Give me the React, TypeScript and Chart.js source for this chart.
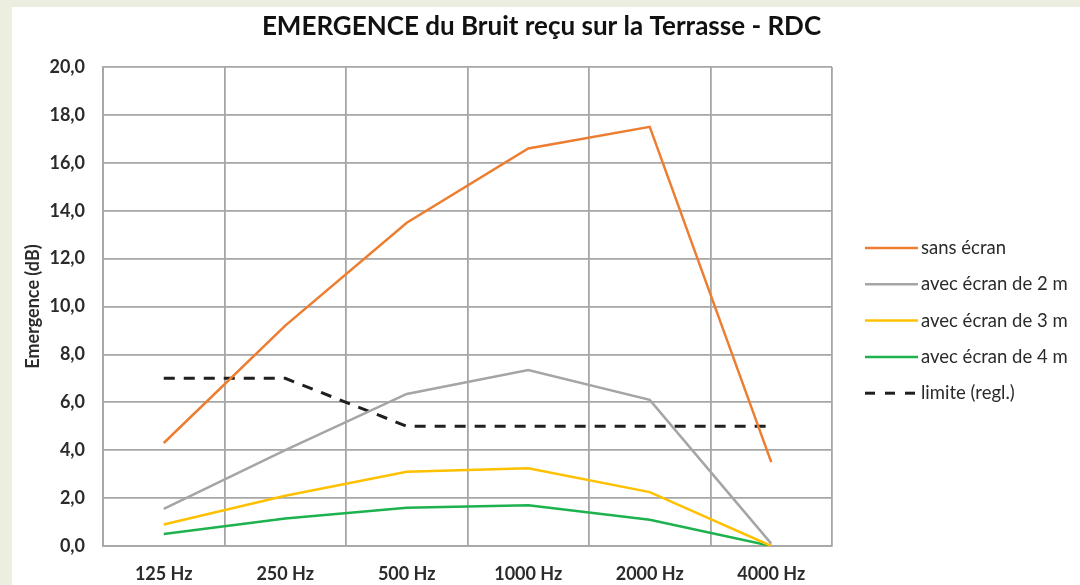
import { useEffect, useRef } from 'react';
import { Chart, registerables } from 'chart.js';

Chart.register(...registerables);

const categories = ['125 Hz', '250 Hz', '500 Hz', '1000 Hz', '2000 Hz', '4000 Hz'];
const seriesNames = ['sans écran', 'avec écran de 2 m', 'avec écran de 3 m', 'avec écran de 4 m', 'limite (regl.)'];
const sansEcran = [4.3, 9.2, 13.5, 16.6, 17.5, 3.5];
const ecran2m = [1.55, 4.0, 6.35, 7.35, 6.1, 0.1];
const ecran3m = [0.9, 2.1, 3.1, 3.25, 2.25, 0.0];
const ecran4m = [0.5, 1.15, 1.6, 1.7, 1.1, 0.0];
const limite = [7, 7, 5, 5, 5, 5];
const titleText = 'EMERGENCE du Bruit reçu sur la Terrasse - RDC';
const yTitle = 'Emergence (dB)';

const GRID = '#A6A6A6';
const TEXT = '#2b2b2b';

const sideLegend = {
  id: 'sideLegend',
  afterDraw(chart: any) {
    const { ctx, chartArea } = chart;
    const x0 = chartArea.right + 33;
    const len = 53;
    const y0 = chartArea.top + 181;
    const step = 36.3;
    chart.data.datasets.forEach((ds: any, i: number) => {
      const y = y0 + i * step;
      ctx.save();
      ctx.strokeStyle = ds.borderColor;
      ctx.lineWidth = ds.borderWidth;
      ctx.setLineDash(ds.borderDash ? [10, 10] : []);
      ctx.beginPath();
      ctx.moveTo(x0, y);
      ctx.lineTo(x0 + len, y);
      ctx.stroke();
      ctx.setLineDash([]);
      ctx.fillStyle = TEXT;
      ctx.font = '18.5px Lato';
      ctx.textBaseline = 'middle';
      ctx.textAlign = 'left';
      ctx.fillText(ds.label, x0 + len + 3, y);
      ctx.restore();
    });
  },
};

export default function App() {
  const ref = useRef<HTMLCanvasElement>(null);
  useEffect(() => {
    const tickFont = { family: 'Lato', size: 18, weight: 'bold' as const, lineHeight: 1.2 };
    const chart = new Chart(ref.current!, {
      type: 'line',
      data: {
        labels: categories,
        datasets: [
          { label: seriesNames[0], data: sansEcran, borderColor: '#ED7D31', borderWidth: 2.5, pointRadius: 0, tension: 0 },
          { label: seriesNames[1], data: ecran2m, borderColor: '#A5A5A5', borderWidth: 2.5, pointRadius: 0, tension: 0 },
          { label: seriesNames[2], data: ecran3m, borderColor: '#FFC000', borderWidth: 2.5, pointRadius: 0, tension: 0 },
          { label: seriesNames[3], data: ecran4m, borderColor: '#1DB24E', borderWidth: 2.5, pointRadius: 0, tension: 0 },
          { label: seriesNames[4], data: limite, borderColor: '#1F1F1F', borderWidth: 3, borderDash: [11, 9], pointRadius: 0, tension: 0 },
        ],
      },
      options: {
        responsive: false,
        animation: false,
        layout: { padding: { left: 0, right: 9, top: 0, bottom: 0 } },
        plugins: {
          legend: { display: false },
          tooltip: { enabled: false },
          title: {
            display: true,
            text: titleText,
            color: '#111111',
            font: { family: 'Lato', size: 26, weight: 'bold', lineHeight: 1.2 },
            padding: { top: 4, bottom: 24.8 },
          },
        },
        scales: {
          x: {
            offset: true,
            grid: { color: GRID, lineWidth: 1.8, drawTicks: false, offset: true },
            border: { color: GRID, width: 1.8 },
            ticks: { color: TEXT, font: tickFont, padding: 17, maxRotation: 0 },
            afterFit: (s: any) => { s.height = 39; },
          },
          y: {
            min: 0,
            max: 20,
            ticks: {
              stepSize: 2,
              color: TEXT,
              font: tickFont,
              padding: 18,
              callback: (v: any) => Number(v).toFixed(1).replace('.', ','),
            },
            grid: { color: GRID, lineWidth: 1.8, drawTicks: false },
            border: { color: GRID, width: 1.8 },
            title: {
              display: true,
              text: yTitle,
              color: TEXT,
              font: { family: 'Lato', size: 18, weight: 'bold', lineHeight: 1.2 },
              padding: { top: 10.2, bottom: 0 },
            },
            afterFit: (s: any) => { s.width = 91; },
          },
          y2: {
            position: 'right',
            grid: { display: false },
            border: { display: false },
            ticks: { display: false },
            afterFit: (s: any) => { s.width = 239; },
          },
        },
      },
      plugins: [sideLegend],
    });
    return () => chart.destroy();
  }, []);
  return (
    <div style={{ position: 'fixed', inset: 0, background: '#ECEEDF' }}>
      <div style={{ position: 'absolute', left: 12, top: 7, right: 0, bottom: 0, background: '#ffffff' }}>
        <canvas ref={ref} width={1068} height={578} style={{ display: 'block' }} />
      </div>
    </div>
  );
}
